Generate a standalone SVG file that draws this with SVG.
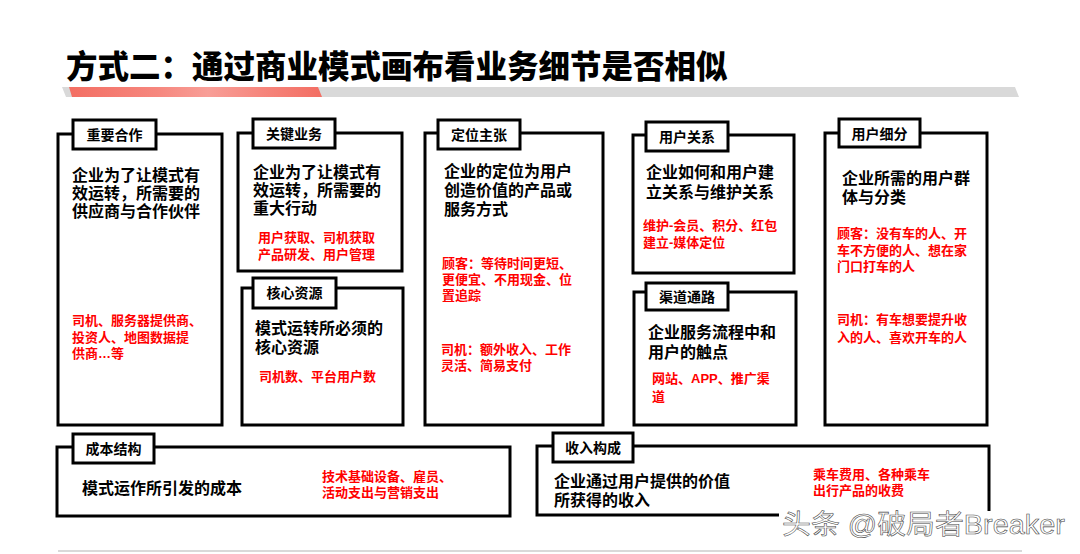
<svg xmlns="http://www.w3.org/2000/svg" width="1080" height="554" viewBox="0 0 1080 554">
<defs>
<linearGradient id="redbar" x1="0" y1="0" x2="1" y2="0">
<stop offset="0" stop-color="#F36E63"/>
<stop offset="0.35" stop-color="#F6877E"/>
<stop offset="0.55" stop-color="#F89E97"/>
<stop offset="0.75" stop-color="#F6877E"/>
<stop offset="1" stop-color="#F36E63"/>
</linearGradient>
<style>
.box{fill:#fff;stroke:#000;stroke-width:3}
.lbl{font-family:"Liberation Sans","Noto Sans CJK SC",sans-serif;font-weight:bold;font-size:14px;fill:#000;text-anchor:middle}
.main{font-family:"Liberation Sans","Noto Sans CJK SC",sans-serif;font-weight:bold;font-size:16px;fill:#000}
.red{font-family:"Liberation Sans","Noto Sans CJK SC",sans-serif;font-weight:bold;font-size:13px;fill:#FF0000}
.title{font-family:"Liberation Sans","Noto Sans CJK SC",sans-serif;font-weight:900;font-size:31.5px;fill:#000}
.wm{font-family:"Liberation Sans","Noto Sans CJK SC",sans-serif;font-size:27px;fill:#fff;stroke:#444;stroke-width:0.55}
</style>
</defs>
<rect width="1080" height="554" fill="#fff"/>

<g id="header">
<text class="title" x="66" y="78">方式二：通过商业模式画布看业务细节是否相似</text>
<polygon points="62,87 1015,87 1019,97 66,97" fill="#D9D9D9"/>
<polygon points="69,87 318,87 322,97 72,97" fill="url(#redbar)"/>
</g>

<g id="connectors"></g>

<g id="key-partners">
<rect class="box" x="58" y="134" width="164" height="291"/>
<rect class="box" x="73" y="120" width="83" height="29"/>
<text class="lbl" x="114.5" y="140">重要合作</text>
<text class="main"><tspan x="72" y="181">企业为了让模式有</tspan><tspan x="72" y="199">效运转，所需要的</tspan><tspan x="72" y="217">供应商与合作伙伴</tspan></text>
<text class="red"><tspan x="72" y="325">司机、服务器提供商、</tspan><tspan x="72" y="342">投资人、地图数据提</tspan><tspan x="72" y="358">供商…等</tspan></text>
</g>

<g id="key-activities">
<rect class="box" x="238" y="133" width="164" height="138"/>
<rect class="box" x="253" y="119" width="82" height="29"/>
<text class="lbl" x="294" y="139">关键业务</text>
<text class="main"><tspan x="253" y="178">企业为了让模式有</tspan><tspan x="253" y="196">效运转，所需要的</tspan><tspan x="253" y="214">重大行动</tspan></text>
<text class="red"><tspan x="258" y="242">用户获取、司机获取</tspan><tspan x="258" y="259">产品研发、用户管理</tspan></text>
</g>

<g id="key-resources">
<rect class="box" x="242" y="288" width="161" height="137"/>
<rect class="box" x="253" y="278" width="83" height="30"/>
<text class="lbl" x="294.5" y="298">核心资源</text>
<text class="main"><tspan x="255" y="334">模式运转所必须的</tspan><tspan x="255" y="353">核心资源</tspan></text>
<text class="red" x="259" y="381">司机数、平台用户数</text>
</g>

<g id="value-proposition">
<rect class="box" x="425" y="133" width="178" height="292"/>
<rect class="box" x="438" y="120" width="82" height="29"/>
<text class="lbl" x="479" y="140">定位主张</text>
<text class="main"><tspan x="444" y="177">企业的定位为用户</tspan><tspan x="444" y="196">创造价值的产品或</tspan><tspan x="444" y="215">服务方式</tspan></text>
<text class="red"><tspan x="442" y="268">顾客：等待时间更短、</tspan><tspan x="442" y="284">更便宜、不用现金、位</tspan><tspan x="442" y="300">置追踪</tspan></text>
<text class="red"><tspan x="441" y="354">司机：额外收入、工作</tspan><tspan x="441" y="370">灵活、简易支付</tspan></text>
</g>

<g id="customer-relationships">
<rect class="box" x="633" y="135" width="161" height="138"/>
<rect class="box" x="646" y="122" width="82" height="29"/>
<text class="lbl" x="687" y="142">用户关系</text>
<text class="main"><tspan x="646" y="178">企业如何和用户建</tspan><tspan x="646" y="198">立关系与维护关系</tspan></text>
<text class="red"><tspan x="643" y="230">维护-会员、积分、红包</tspan><tspan x="643" y="247">建立-媒体定位</tspan></text>
</g>

<g id="channels">
<rect class="box" x="634" y="292" width="162" height="133"/>
<rect class="box" x="646" y="283" width="82" height="27"/>
<text class="lbl" x="687" y="302">渠道通路</text>
<text class="main"><tspan x="648" y="338">企业服务流程中和</tspan><tspan x="648" y="358">用户的触点</tspan></text>
<text class="red"><tspan x="652" y="383">网站、APP、推广渠</tspan><tspan x="652" y="401">道</tspan></text>
</g>

<g id="customer-segments">
<rect class="box" x="825" y="133" width="162" height="292"/>
<rect class="box" x="839" y="119" width="81" height="28"/>
<text class="lbl" x="879.5" y="139">用户细分</text>
<text class="main"><tspan x="842" y="184">企业所需的用户群</tspan><tspan x="842" y="203">体与分类</tspan></text>
<text class="red"><tspan x="837" y="238">顾客：没有车的人、开</tspan><tspan x="837" y="255">车不方便的人、想在家</tspan><tspan x="837" y="271">门口打车的人</tspan></text>
<text class="red"><tspan x="837" y="324">司机：有车想要提升收</tspan><tspan x="837" y="342">入的人、喜欢开车的人</tspan></text>
</g>

<g id="cost-structure">
<rect class="box" x="57" y="447" width="453" height="69"/>
<rect class="box" x="73" y="434" width="81" height="29"/>
<text class="lbl" x="113.5" y="454">成本结构</text>
<text class="main" x="82" y="494">模式运作所引发的成本</text>
<text class="red"><tspan x="322" y="481">技术基础设备、雇员、</tspan><tspan x="322" y="497">活动支出与营销支出</tspan></text>
</g>

<g id="revenue-streams">
<rect class="box" x="537" y="446" width="452" height="69"/>
<rect class="box" x="553" y="433" width="80" height="29"/>
<text class="lbl" x="593" y="453">收入构成</text>
<text class="main"><tspan x="554" y="487">企业通过用户提供的价值</tspan><tspan x="554" y="506">所获得的收入</tspan></text>
<text class="red"><tspan x="813" y="479">乘车费用、各种乘车</tspan><tspan x="813" y="495">出行产品的收费</tspan></text>
</g>

<g id="footer">
<line x1="58" y1="551" x2="1022" y2="551" stroke="#CCCCCC" stroke-width="1.5"/>
<rect x="779" y="511" width="292" height="28" fill="#fff"/>
<text class="wm" x="782" y="534" textLength="283" lengthAdjust="spacingAndGlyphs">头条 @破局者Breaker</text>
</g>
</svg>
